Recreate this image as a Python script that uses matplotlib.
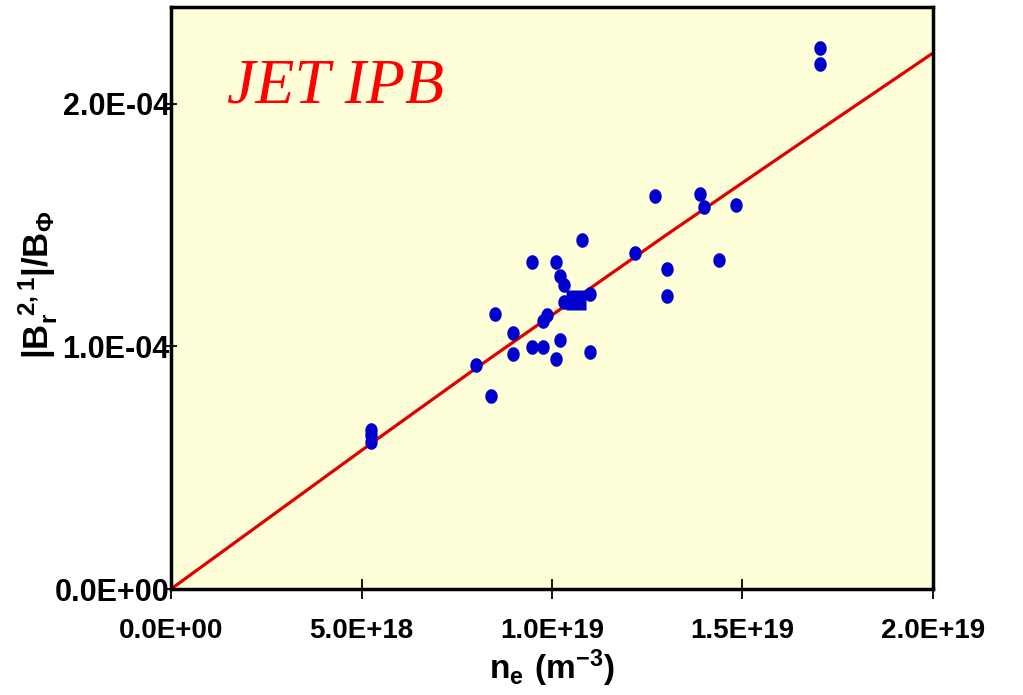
import matplotlib
matplotlib.use("Agg")
import matplotlib.pyplot as plt
import numpy as np

plt.rcParams['mathtext.fontset'] = 'custom'
plt.rcParams['mathtext.rm'] = 'Liberation Sans:bold'
plt.rcParams['mathtext.default'] = 'rm'

# measured points: density (m^-3) and |Br|/Bphi
ne = np.array([5.25, 5.25, 5.25, 8.00, 8.39, 8.50, 8.98, 8.98, 9.47, 9.47,
               9.77, 9.87, 9.77, 10.11, 10.11, 10.21, 10.21, 10.31, 10.31, 10.80,
               11.00, 11.00, 12.18, 12.71, 13.01, 13.01, 13.89, 13.99, 14.38, 14.82,
               17.03, 17.03]) * 1e18
br = np.array([0.657, 0.636, 0.605, 0.923, 0.795, 1.136, 1.054, 0.971, 1.347, 0.999,
               1.106, 1.128, 0.999, 1.347, 0.950, 1.291, 1.025, 1.252, 1.182, 1.439,
               1.218, 0.978, 1.384, 1.621, 1.318, 1.208, 1.630, 1.577, 1.355, 1.584,
               2.231, 2.165]) * 1e-4

# highlighted point
sq_ne = [10.64e18]
sq_br = [1.193e-4]

# scaling curve
fit_ne = np.array([0, 5.25, 8.0, 10.64, 13.0, 17.0, 20.0]) * 1e18
fit_br = np.array([0, 0.60, 0.91, 1.20, 1.46, 1.89, 2.21]) * 1e-4

xticks = [0, 5e18, 1e19, 1.5e19, 2e19]
xlabels = ['0.0E+00', '5.0E+18', '1.0E+19', '1.5E+19', '2.0E+19']
yticks = [0, 1e-4, 2e-4]
ylabels = ['0.0E+00', '1.0E-04', '2.0E-04']

fig = plt.figure(figsize=(10.23, 6.95), dpi=100)
ax = fig.add_axes([0.1672, 0.1525, 0.7448, 0.8375])
ax.set_facecolor('#FEFED8')

# slightly tall ellipse marker
t = np.linspace(0, 2 * np.pi, 60)
ell = np.c_[0.85 * np.cos(t), np.sin(t)]

ax.plot(fit_ne, fit_br, color='#E00000', lw=2.3, zorder=2)
ax.plot(ne, br, ls='none', marker=ell, ms=10.5, color='#0000CC', mec='none', zorder=3)
ax.plot(sq_ne, sq_br, ls='none', marker='s', ms=14, color='#0000CC', mec='none', zorder=4)

ax.set_xlim(0, 2e19)
ax.set_ylim(0, 2.4e-4)
ax.set_xticks(xticks)
ax.set_xticklabels(xlabels, family='Liberation Sans', weight='bold', fontsize=20)
ax.set_yticks(yticks)
ax.set_yticklabels(ylabels, family='Liberation Sans', weight='bold', fontsize=22)
ax.tick_params(axis='x', direction='inout', length=14, width=1.3, pad=14)
ax.tick_params(axis='y', direction='inout', length=8, width=1.3, pad=-3)

for s in ax.spines.values():
    s.set_linewidth(2.5)

ax.set_xlabel(r'$n_e\ (m^{-3})$', fontsize=24)
ax.xaxis.set_label_coords(0.5, -0.1)
ax.set_ylabel(r'$|B_r^{\ 2,1}|/B_\Phi$', fontsize=25)
ax.yaxis.set_label_coords(-0.146, 0.522)

ax.text(0.0735, 0.835, 'JET IPB', transform=ax.transAxes, color='red',
        family='Liberation Serif', style='italic', fontsize=46, va='baseline')

plt.savefig('out.png', dpi=100)
